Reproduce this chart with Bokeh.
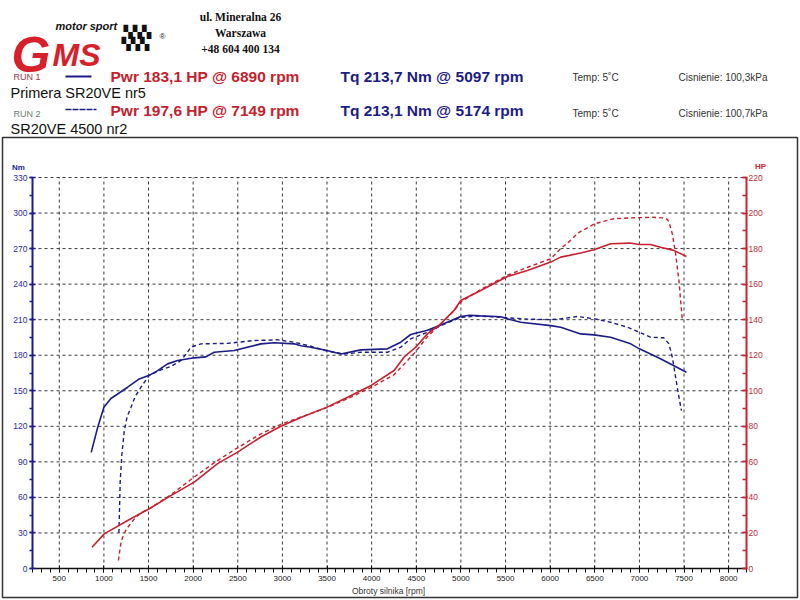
from bokeh.plotting import figure
from bokeh.models import Range1d, LinearAxis, SingleIntervalTicker, Label, BoxAnnotation
from bokeh.embed import file_html
from bokeh.resources import INLINE

# ---------------- data ----------------
run1_tq_rpm = [858, 930, 1000, 1079, 1266, 1396, 1508, 1602, 1714, 1826, 2012, 2143, 2236, 2460,
               2759, 2908, 3132, 3207, 3318, 3500, 3655, 3879, 4177, 4326, 4438, 4625, 4774, 4998,
               5097, 5221, 5446, 5521, 5670, 6006, 6118, 6342, 6491, 6678, 6902, 7000, 7236, 7527]
run1_tq_nm = [98, 119, 136, 143.5, 153, 160, 163, 167, 172.7, 175.5, 177.8, 178.6, 182.5, 184,
              189.6, 190.5, 189.6, 188, 186.8, 184, 181, 184.5, 185.4, 191, 197.5, 201, 205.6, 212.7,
              213.7, 213.2, 212.5, 210.7, 207.8, 205, 203.6, 198, 197.2, 195.2, 189.6, 185.4, 177, 165.7]

run2_tq_rpm = [1168, 1175, 1183, 1200, 1228, 1260, 1303, 1350, 1415, 1508, 1639, 1751, 1863, 1930,
               1975, 2087, 2385, 2684, 2945, 3132, 3300, 3500, 3692, 3879, 4177, 4326, 4438, 4625,
               4774, 5000, 5174, 5221, 5521, 5750, 6006, 6118, 6305, 6500, 6678, 6865, 7000, 7123,
               7272, 7331, 7369, 7406, 7443, 7471]
run2_tq_nm = [30, 50, 74, 95, 116, 128, 136, 145, 153, 163, 167.7, 170.5, 175.5, 182,
              186.8, 189.6, 190, 192.4, 193, 191, 188, 183.5, 181, 182.5, 182.5, 186.8, 193.8, 199.4,
              205, 212, 213.1, 213.0, 211.6, 210.5, 210, 210.7, 212.7, 210.7, 207.8, 203.6, 199.4, 195.2,
              194.7, 189.6, 178.3, 161.4, 144.6, 133.3]

run1_pw_rpm = [867, 1004, 1266, 1508, 1751, 2012, 2274, 2498, 2759, 2983, 3207, 3500, 3730, 3994,
               4252, 4364, 4494, 4625, 4774, 4923, 4998, 5222, 5521, 5745, 6006, 6118, 6342, 6491,
               6678, 6890, 7000, 7123, 7236, 7385, 7527]
run1_pw_hp = [12, 19.5, 27, 33.6, 41, 48.6, 59, 65.5, 74, 80, 85, 90.8, 96.4, 103,
              111.4, 119, 124.5, 132, 137.7, 145.2, 150.8, 156.4, 164.3, 167.7, 172.4, 175.2, 177.5, 179.3,
              182.7, 183.1, 182.3, 182.3, 180.8, 179, 175.6]

run2_pw_rpm = [1163, 1172, 1190, 1210, 1250, 1303, 1360, 1420, 1508, 1750, 2000, 2250, 2500, 2750,
               3000, 3250, 3500, 3750, 4000, 4250, 4364, 4494, 4625, 4774, 4923, 5000, 5222, 5521,
               5750, 6006, 6118, 6193, 6320, 6500, 6714, 6900, 7000, 7149, 7257, 7313, 7331, 7369,
               7406, 7443, 7481]
run2_pw_hp = [4.5, 8, 14, 17.6, 22, 25.5, 29, 31.5, 33.6, 41.5, 51, 60, 68, 75.5,
              81.5, 86, 90.5, 96, 102, 109, 115, 122, 130.5, 137.5, 145, 150, 157, 165,
              169.5, 174.3, 180, 183, 189, 194, 196.8, 197.3, 197.4, 197.6, 197.3, 196.5, 195, 188.3,
              177, 162, 139.6]

rpm_ticks = list(range(500, 8001, 500))
nm_ticks = list(range(0, 331, 30))

runs = ["RUN 1", "RUN 2"]
run_names = ["Primera SR20VE nr5", "SR20VE 4500 nr2"]
pwr_texts = ["Pwr 183,1 HP @ 6890 rpm", "Pwr 197,6 HP @ 7149 rpm"]
tq_texts = ["Tq 213,7 Nm @ 5097 rpm", "Tq 213,1 Nm @ 5174 rpm"]
temp_texts = ["Temp: 5\u02daC", "Temp: 5\u02daC"]
press_texts = ["Cisnienie: 100,3kPa", "Cisnienie: 100,7kPa"]
address = ["ul. Mineralna 26", "Warszawa", "+48 604 400 134"]

RPM_MIN, RPM_MAX = 200, 8200
NM_MAX, HP_MAX = 330, 220

# ---------------- layout / styling ----------------
W, H = 800, 600
PL, PR, PT, PB = 32, 746, 177, 568   # chart area in page pixels

NAVY = "#1c1c86"
RED = "#c4222e"
AX_BLUE = "#1a1a9a"
AX_RED = "#cc2233"

kx = (PR - PL) / (RPM_MAX - RPM_MIN)
ky = (PB - PT) / NM_MAX
kh = (PB - PT) / HP_MAX
x_range = Range1d(RPM_MIN - PL / kx, RPM_MAX + (W - PR) / kx)
y_range = Range1d(0 - (H - PB) / ky, NM_MAX + PT / ky)
hp_range = Range1d(0 - (H - PB) / kh, HP_MAX + PT / kh)

p = figure(width=W, height=H, x_range=x_range, y_range=y_range,
           output_backend="svg", toolbar_location=None,
           x_axis_location=None, y_axis_location=None,
           min_border=0, min_border_left=0, min_border_right=0,
           min_border_top=0, min_border_bottom=0)
p.title.visible = False
p.outline_line_color = None
p.background_fill_color = "white"
p.border_fill_color = "white"
p.xgrid.visible = False
p.ygrid.visible = False
p.extra_y_ranges = {"hp": hp_range}

# grid (dashed) from tick lists
p.segment(x0=rpm_ticks, y0=[0] * len(rpm_ticks), x1=rpm_ticks, y1=[NM_MAX] * len(rpm_ticks),
          line_color="#3a3a3a", line_dash="3 3", line_width=1)
p.segment(x0=[RPM_MIN] * len(nm_ticks), y0=nm_ticks, x1=[RPM_MAX] * len(nm_ticks), y1=nm_ticks,
          line_color="#3a3a3a", line_dash="3 3", line_width=1)

# axes, fixed at the chart area edges
xa = LinearAxis(ticker=SingleIntervalTicker(interval=500, num_minor_ticks=5),
                fixed_location=0, bounds=(RPM_MIN, RPM_MAX))
xa.axis_line_color = "#111111"
xa.axis_line_width = 1.5
xa.major_tick_line_color = "#111111"
xa.minor_tick_line_color = "#111111"
xa.major_tick_in = 3
xa.major_tick_out = 4
xa.minor_tick_in = 0
xa.minor_tick_out = 4
xa.major_label_text_font = "Liberation Sans"
xa.major_label_text_font_size = "8px"
xa.major_label_text_color = "#222222"
xa.major_label_standoff = 3
p.add_layout(xa, "below")

ya = LinearAxis(ticker=SingleIntervalTicker(interval=30, num_minor_ticks=2),
                fixed_location=RPM_MIN, bounds=(0, NM_MAX))
ya.axis_line_color = AX_BLUE
ya.axis_line_width = 2
ya.major_tick_line_color = AX_BLUE
ya.minor_tick_line_color = AX_BLUE
ya.major_tick_line_width = 1.5
ya.minor_tick_line_width = 1.5
ya.major_tick_in = 3
ya.major_tick_out = 3
ya.minor_tick_in = 0
ya.minor_tick_out = 3
ya.major_label_text_font = "Liberation Sans"
ya.major_label_text_font_size = "8.5px"
ya.major_label_text_color = "#2b2b96"
ya.major_label_standoff = 2
p.add_layout(ya, "left")

ra = LinearAxis(y_range_name="hp", ticker=SingleIntervalTicker(interval=20, num_minor_ticks=2),
                fixed_location=RPM_MAX, bounds=(0, HP_MAX))
ra.axis_line_color = AX_RED
ra.axis_line_width = 2
ra.major_tick_line_color = AX_RED
ra.minor_tick_line_color = AX_RED
ra.major_tick_line_width = 1.5
ra.minor_tick_line_width = 1.5
ra.major_tick_in = 4
ra.major_tick_out = 1
ra.minor_tick_in = 4
ra.minor_tick_out = 0
ra.major_label_text_font = "Liberation Sans"
ra.major_label_text_font_size = "8.5px"
ra.major_label_text_color = "#b8303c"
ra.major_label_standoff = 1
p.add_layout(ra, "right")

# curves
p.line(run1_tq_rpm, run1_tq_nm, line_color=NAVY, line_width=1.6)
p.line(run2_tq_rpm, run2_tq_nm, line_color=NAVY, line_width=1.4, line_dash="4 3")
p.line(run1_pw_rpm, run1_pw_hp, line_color=RED, line_width=1.6, y_range_name="hp")
p.line(run2_pw_rpm, run2_pw_hp, line_color=RED, line_width=1.4, line_dash="4 3", y_range_name="hp")


def lab(px, py, text, size, color="#111111", font="Liberation Sans", style="normal",
        align="left", baseline="middle"):
    p.add_layout(Label(x=px, y=H - py, x_units="screen", y_units="screen", text=text,
                       text_font=font, text_font_size=size, text_color=color,
                       text_font_style=style, text_align=align, text_baseline=baseline))


def box(px0, px1, py0, py1, color, dash="solid", width=1.5):
    p.add_layout(BoxAnnotation(left=px0, right=px1, top=H - py0, bottom=H - py1,
                               left_units="screen", right_units="screen",
                               top_units="screen", bottom_units="screen",
                               fill_alpha=0, line_alpha=1,
                               line_color=color, line_width=width, line_dash=dash))


# outer frame of chart area
box(2, 797, 137, 597, "#333333", width=1.5)

# logo
lab(11, 54, "G", "50px", "#d8202a", "Liberation Sans", "bold italic", baseline="alphabetic")
lab(52, 54, "MS", "32px", "#d8202a", "Liberation Sans", "bold italic", baseline="alphabetic")
lab(55, 25, "motor sport", "11px", "#111111", "Liberation Sans", "bold italic")
lab(123, 31, "\u259a\u259a\u259a", "12px", "#111111", "DejaVu Sans", "italic")
lab(121, 43, "\u259a\u259a\u259a", "12px", "#111111", "DejaVu Sans", "italic")
lab(159, 36, "\u00ae", "8px", "#111111")

# address
for i, t in enumerate(address):
    lab(240, 16 + 16 * i, t, "11.5px", "#111111", "Liberation Serif", "bold", align="center")

# run rows
row_y = [76, 110]
run_colors = ["#8e3a4a", "#6b7b6b"]
for i in range(2):
    y = row_y[i]
    lab(13, y + (0 if i == 0 else 3), runs[i], "9px", run_colors[i])
    lab(110, y, pwr_texts[i], "15.5px", RED, "Liberation Sans", "bold")
    lab(340, y, tq_texts[i], "15.5px", NAVY, "Liberation Sans", "bold")
    lab(572, y + 1 + (0 if i == 0 else 2), temp_texts[i], "10px", "#333333")
    lab(678, y + 1 + (0 if i == 0 else 2), press_texts[i], "10px", "#333333")
    lab(10, y + 16 + (0 if i == 0 else 2), run_names[i], "14.5px", "#111111")
box(65, 91, 76, 76, NAVY, "solid", 2)
box(65, 96, 109, 109, NAVY, "4 3", 1.5)

# axis titles
lab(18, 167, "Nm", "8px", AX_BLUE, "Liberation Sans", "bold", align="center")
lab(760, 166, "HP", "8px", AX_RED, "Liberation Sans", "bold", align="center")
lab(388, 590, "Obroty silnika [rpm]", "8.5px", "#333333", align="center")

open("out.html", "w").write(file_html(p, INLINE))
